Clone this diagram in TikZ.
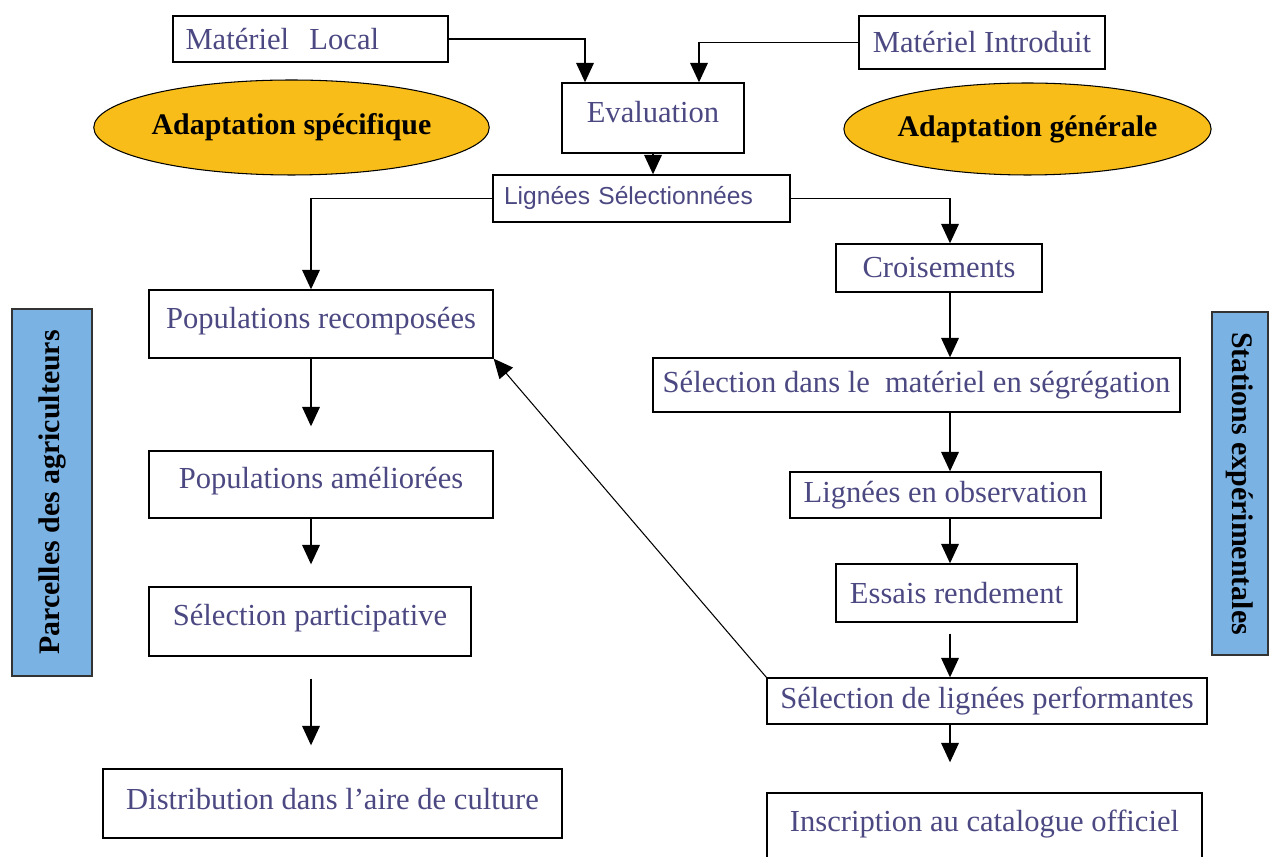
\documentclass[tikz,border=0pt]{standalone}
\usepackage{fontspec}
\setmainfont{Liberation Serif}
\setsansfont{Liberation Sans}
\usetikzlibrary{shapes}
\usetikzlibrary{arrows.meta}
\definecolor{txtblue}{RGB}{75,72,130}
\definecolor{sideblue}{RGB}{122,178,228}
\definecolor{gold}{RGB}{248,189,25}

\begin{document}
\begin{tikzpicture}[x=0.02cm,y=-0.02cm]
	\tikzstyle{box}=[rectangle,draw,line width=0.8pt,text=txtblue,font=\fontsize{17.4}{20}\selectfont,inner sep=0pt]
	\tikzstyle{zone}=[ellipse,draw,line width=0.6pt,fill=gold,inner sep=0pt,font=\fontsize{17}{20}\selectfont\bfseries]
	\tikzstyle{side}=[rectangle,draw=black!80,line width=0.8pt,fill=sideblue,inner sep=0pt,font=\fontsize{17}{20}\selectfont\bfseries]
	\tikzstyle{arr}=[line width=0.8pt,-{Triangle[length=11pt,width=10pt]}]
	\useasboundingbox (0,0) rectangle (1270,857);

	\node[box,minimum width=5.5cm,minimum height=0.92cm,text width=5.0cm,inner xsep=0.25cm,align=left] (ml) at (310.5,39) {Matériel\ \ Local};
	\node[box,minimum width=4.92cm,minimum height=1.06cm] (mi) at (982,42.5) {Matériel Introduit};
	\node[box,minimum width=3.64cm,minimum height=1.4cm,text depth=0.25cm] (ev) at (653,118) {Evaluation};
	\node[box,minimum width=5.94cm,minimum height=0.94cm,text width=5.5cm,inner xsep=0.22cm,align=left,font=\sffamily\fontsize{14}{16}\selectfont] (ls) at (641.5,198.5) {Lignées Sélectionnées};
	\node[zone,minimum width=7.78cm,minimum height=1.9cm] (as) at (291.5,127.5) {Adaptation spécifique};
	\node[zone,minimum width=6.9cm,minimum height=1.84cm] (ag) at (1027.5,129) {Adaptation générale};
	\node[box,minimum width=4.12cm,minimum height=0.96cm] (cr) at (939,268) {Croisements};
	\node[box,minimum width=6.88cm,minimum height=1.36cm,text depth=0.25cm] (pr) at (321,324) {Populations recomposées};
	\node[box,minimum width=10.54cm,minimum height=1.08cm] (sd) at (916.5,385) {Sélection dans le\ \ matériel en ségrégation};
	\node[box,minimum width=6.88cm,minimum height=1.34cm,text depth=0.25cm] (pa) at (321,484.5) {Populations améliorées};
	\node[box,minimum width=6.22cm,minimum height=0.92cm] (lo) at (945.5,495) {Lignées en observation};
	\node[box,minimum width=4.82cm,minimum height=1.16cm] (er) at (956.5,593) {Essais rendement};
	\node[box,minimum width=6.44cm,minimum height=1.38cm,text depth=0.25cm] (sp) at (310,621.5) {Sélection participative};
	\node[box,minimum width=8.8cm,minimum height=0.92cm] (sl) at (987,701) {Sélection de lignées performantes};
	\node[box,minimum width=9.18cm,minimum height=1.38cm,text depth=0.2cm] (di) at (332.5,803.5) {Distribution dans l’aire de culture};
	\node[box,minimum width=8.7cm,minimum height=1.72cm,text depth=0.6cm] (ic) at (984.5,836) {Inscription au catalogue officiel};
	\node[side,rotate=90,minimum width=7.34cm,minimum height=1.6cm] (pc) at (52,492.5) {Parcelles des agriculteurs};
	\node[side,rotate=-90,minimum width=6.86cm,minimum height=1.12cm] (se) at (1240,483.5) {Stations expérimentales};

	\coordinate (lc) at (311,0);
	\coordinate (rc) at (950,0);

	\draw[arr] (ml.east) -| ([xshift=-1.36cm]ev.north);
	\draw[arr] (mi.west) -| ([xshift=0.92cm]ev.north);
	\draw[arr] (ev.south) -- (ev.south |- ls.north);
	\draw[arr] (ls.west) -| (lc |- pr.north);
	\draw[arr] (ls.east) -| (rc |- cr.north);
	\draw[arr] (cr.south -| rc) -- (rc |- sd.north);
	\draw[arr] (sd.south -| rc) -- (rc |- lo.north);
	\draw[arr] (lo.south -| rc) -- (rc |- er.north);
	\draw[arr,shorten <=0.22cm] (er.south -| rc) -- (rc |- sl.north);
	\draw[arr,shorten >=0.6cm] (sl.south -| rc) -- (rc |- ic.north);
	\draw[arr,shorten >=0.48cm] (pr.south -| lc) -- (lc |- pa.north);
	\draw[arr,shorten >=0.44cm] (pa.south -| lc) -- (lc |- sp.north);
	\draw[arr,shorten <=0.44cm,shorten >=0.46cm] (sp.south -| lc) -- (lc |- di.north);
	\draw[arr,line width=0.6pt] (sl.north west) -- (pr.south east);
\end{tikzpicture}
\end{document}
